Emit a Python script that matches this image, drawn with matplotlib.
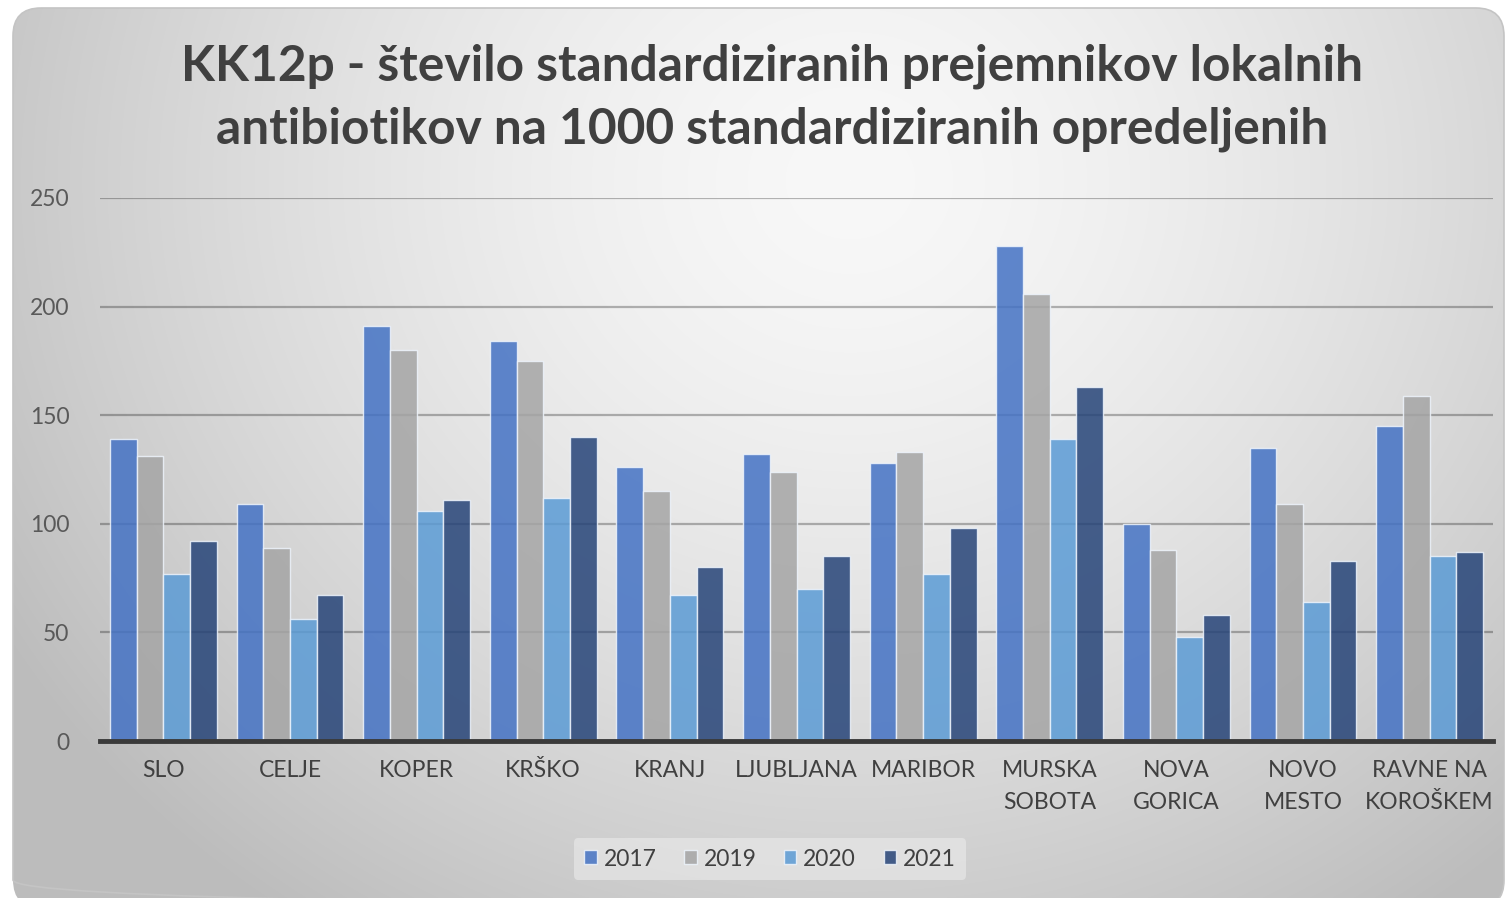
import numpy as np
import matplotlib.pyplot as plt
from matplotlib.patches import FancyBboxPatch

# Data
regions = ['SLO', 'CELJE', 'KOPER', 'KRŠKO', 'KRANJ', 'LJUBLJANA', 'MARIBOR',
           'MURSKA\nSOBOTA', 'NOVA\nGORICA', 'NOVO\nMESTO', 'RAVNE NA\nKOROŠKEM']
years = ['2017', '2019', '2020', '2021']
v2017 = [139, 109, 191, 184, 126, 132, 128, 228, 100, 135, 145]
v2019 = [131, 89, 180, 175, 115, 124, 133, 206, 88, 109, 159]
v2020 = [77, 56, 106, 112, 67, 70, 77, 139, 48, 64, 85]
v2021 = [92, 67, 111, 140, 80, 85, 98, 163, 58, 83, 87]
y_ticks = [0, 50, 100, 150, 200, 250]

colors = ['#4472C4', '#A5A5A5', '#5B9BD5', '#264478']
title = ('KK12p - število standardiziranih prejemnikov lokalnih\n'
         'antibiotikov na 1000 standardiziranih opredeljenih')

plt.rcParams['font.family'] = ['Lato', 'DejaVu Sans']

W, H = 1506, 898
fig = plt.figure(figsize=(W / 100, H / 100), dpi=100, facecolor='white')

# background card with a radial grey gradient
bg = fig.add_axes([0, 0, 1, 1])
bg.set_xlim(0, W)
bg.set_ylim(H, 0)
bg.axis('off')
xx, yy = np.meshgrid(np.arange(W), np.arange(H))
d = np.sqrt(((xx - 850) / 900.0) ** 2 + ((yy - 180) / 820.0) ** 2)
shade = 248 - 52 * np.clip(d, 0, 1.1) ** 1.5
img = np.dstack([shade, shade, shade]) / 255.0
card = FancyBboxPatch((13, 8), 1491, 900, boxstyle='round,pad=0,rounding_size=28',
                      facecolor='none', edgecolor='#c4c4c4', linewidth=1.2)
bg.add_patch(card)
im = bg.imshow(img, extent=(0, W, H, 0), aspect='auto')
im.set_clip_path(card)

ax = fig.add_axes([100 / W, 1 - 741 / H, (1493 - 100) / W, (741 - 198) / H])
ax.patch.set_alpha(0)

x = np.arange(len(regions))
width = 0.211
series = [v2017, v2019, v2020, v2021]
for i, (vals, yr, c) in enumerate(zip(series, years, colors)):
    ax.bar(x + (i - 1.5) * width, vals, width, color=c, alpha=0.85,
           edgecolor='#eef4fc', linewidth=1.0, label=yr, zorder=3)

ax.set_xlim(-0.5, len(regions) - 0.5)
ax.set_ylim(0, 250)
ax.set_yticks(y_ticks)
ax.yaxis.grid(True, color='black', alpha=0.28, linewidth=1.6, zorder=1)
ax.set_axisbelow(True)
for s in ['top', 'right', 'left']:
    ax.spines[s].set_visible(False)
ax.spines['bottom'].set_color('#3a3a3a')
ax.spines['bottom'].set_linewidth(3.5)
ax.spines['bottom'].set_zorder(5)

ax.set_xticks(x)
ax.set_xticklabels(regions, fontsize=16.5, color='#404040', linespacing=1.6)
ax.tick_params(axis='x', length=0, pad=14)
ax.tick_params(axis='y', length=0, pad=22, labelsize=16.5, labelcolor='#595959')

fig.text(772 / W, 1 - 98 / H, title, ha='center', va='center', fontsize=35.7,
         fontweight='bold', color='#404040', linespacing=1.48)

leg = ax.legend(loc='center', bbox_to_anchor=(770 / W, 1 - 859 / H),
                bbox_transform=fig.transFigure, ncol=4, frameon=True,
                fontsize=16.5, handlelength=0.55, handleheight=0.55,
                handletextpad=0.3, columnspacing=1.2, borderpad=0.45)
leg.get_frame().set_facecolor('#ebebeb')
leg.get_frame().set_edgecolor('none')
leg.get_frame().set_alpha(0.6)
for t in leg.get_texts():
    t.set_color('#404040')

fig.savefig('out.png', dpi=100, facecolor='white')
